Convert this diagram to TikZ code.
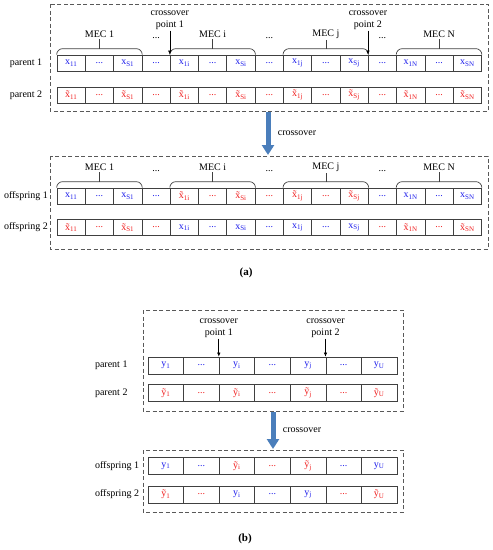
\documentclass[tikz,border=0pt]{standalone}
\usepackage{fontspec}
\setmainfont{Liberation Serif}
\usetikzlibrary{arrows.meta,calc,positioning}
\definecolor{gblue}{RGB}{30,30,235}
\definecolor{gred}{RGB}{240,30,30}
\definecolor{xoverblue}{RGB}{74,126,187}
\newcommand{\gx}[1]{x\textsubscript{#1}}
\newcommand{\gtx}[1]{\~{x}\textsubscript{#1}}
\newcommand{\gy}[1]{y\textsubscript{#1}}
\newcommand{\gty}[1]{\~{y}\textsubscript{#1}}
\newcommand{\gdots}{...}
\begin{document}
\begin{tikzpicture}[x=1pt, y=-1pt,
  font=\fontsize{10}{11.5}\selectfont,
  cell/.style={draw=black!75, line width=0.7pt, minimum width=28.3pt, minimum height=16pt, inner sep=0pt},
  cellb/.style={cell, minimum width=35.57pt, minimum height=17pt},
  grpbox/.style={draw=black!65, line width=0.8pt, dash pattern=on 4pt off 2.5pt},
  brace/.style={draw=black!75, line width=0.7pt, rounded corners=6pt},
  meclbl/.style={inner sep=1pt},
  xlbl/.style={align=center, inner sep=1pt},
  ptarrow/.style={-{Latex[length=4pt,width=3.5pt]}, line width=0.6pt},
  bigarrow/.style={-{Triangle[length=10pt,width=12pt]}, line width=5pt, xoverblue}
]
\useasboundingbox (0,0) rectangle (493,550);

% (a) parents
\draw[grpbox] (50,4) rectangle (488,111);
\foreach \cl/\tx [count=\k] in {gblue/\gx{11}, gblue/\gdots, gblue/\gx{S1}, gblue/\gdots, gblue/\gx{1i}, gblue/\gdots, gblue/\gx{Si}, gblue/\gdots, gblue/\gx{1j}, gblue/\gdots, gblue/\gx{Sj}, gblue/\gdots, gblue/\gx{1N}, gblue/\gdots, gblue/\gx{SN}}
  \node[cell, text=\cl] (a1-\k) at ({57+28.3*(\k-0.5)}, 63) {\tx};
\foreach \cl/\tx [count=\k] in {gred/\gtx{11}, gred/\gdots, gred/\gtx{S1}, gred/\gdots, gred/\gtx{1i}, gred/\gdots, gred/\gtx{Si}, gred/\gdots, gred/\gtx{1j}, gred/\gdots, gred/\gtx{Sj}, gred/\gdots, gred/\gtx{1N}, gred/\gdots, gred/\gtx{SN}}
  \node[cell, text=\cl] (a2-\k) at ({57+28.3*(\k-0.5)}, 95) {\tx};
\node (lp1a) at (26,63) {parent 1};
\node (lp2a) at (26,95) {parent 2};

% (a) offspring
\draw[grpbox] (50,156) rectangle (488,249);
\foreach \cl/\tx [count=\k] in {gblue/\gx{11}, gblue/\gdots, gblue/\gx{S1}, gblue/\gdots, gred/\gtx{1i}, gred/\gdots, gred/\gtx{Si}, gred/\gdots, gred/\gtx{1j}, gred/\gdots, gred/\gtx{Sj}, gblue/\gdots, gblue/\gx{1N}, gblue/\gdots, gblue/\gx{SN}}
  \node[cell, text=\cl] (a3-\k) at ({57+28.3*(\k-0.5)}, 196) {\tx};
\foreach \cl/\tx [count=\k] in {gred/\gtx{11}, gred/\gdots, gred/\gtx{S1}, gred/\gdots, gblue/\gx{1i}, gblue/\gdots, gblue/\gx{Si}, gblue/\gdots, gblue/\gx{1j}, gblue/\gdots, gblue/\gx{Sj}, gred/\gdots, gred/\gtx{1N}, gred/\gdots, gred/\gtx{SN}}
  \node[cell, text=\cl] (a4-\k) at ({57+28.3*(\k-0.5)}, 227.5) {\tx};
\node (lo1a) at (26,196) {offspring 1};
\node (lo2a) at (26,227.5) {offspring 2};

% MEC groups
\foreach \r/\t in {a1/u, a3/d} {
  \foreach \s/\e/\m in {1/3/1, 5/7/i, 9/11/j, 13/15/N} {
    \draw[brace] (\r-\s.north west) -- ++(0,-6) -| (\r-\e.north east);
    \node[meclbl] (mec\t\m) at ($(\r-\s.north west)!0.5!(\r-\e.north east)+(0,-20)$) {MEC \m};
    \draw[draw=black!75, line width=0.6pt] ($(\r-\s.north west)!0.5!(\r-\e.north east)+(0,-6)$) -- (mec\t\m.south);
  }
  \node[inner sep=0.5pt] (dd\t1) at ($(mec\t1)!0.5!(mec\t i)+(0,3)$) {\gdots};
  \node[inner sep=0.5pt] (dd\t2) at ($(mec\t i)!0.5!(mec\t j)+(0,3)$) {\gdots};
  \node[inner sep=0.5pt] (dd\t3) at ($(mec\t j)!0.5!(mec\t N)+(0,3)$) {\gdots};
}

% crossover points (a)
\node[xlbl, above=24pt of a1-5.north west] (cp1a) {crossover\\point 1};
\node[xlbl, above=24pt of a1-12.north west] (cp2a) {crossover\\point 2};
\draw[ptarrow] (cp1a) -- (a1-5.north west);
\draw[ptarrow] (cp2a) -- (a1-12.north west);

\coordinate (xa0) at (268,112);
\coordinate (xa1) at (268,155);
\draw[bigarrow] (xa0) -- (xa1) node[midway, right=4pt, text=black] (xlbla) {crossover};

\node[font=\fontsize{11}{13}\selectfont\bfseries] (capa) at (246,273) {(a)};

% (b) parents
\draw[grpbox] (143,310) rectangle (403,411);
\foreach \cl/\tx [count=\k] in {gblue/\gy{1}, gblue/\gdots, gblue/\gy{i}, gblue/\gdots, gblue/\gy{j}, gblue/\gdots, gblue/\gy{U}}
  \node[cellb, text=\cl] (b1-\k) at ({148+35.57*(\k-0.5)}, 365.5) {\tx};
\foreach \cl/\tx [count=\k] in {gred/\gty{1}, gred/\gdots, gred/\gty{i}, gred/\gdots, gred/\gty{j}, gred/\gdots, gred/\gty{U}}
  \node[cellb, text=\cl] (b2-\k) at ({148+35.57*(\k-0.5)}, 393) {\tx};
\node[anchor=west] (lp1b) at (91.5,365.5) {parent 1};
\node[anchor=west] (lp2b) at (91.5,393) {parent 2};

\node[xlbl, above=18pt of b1-3.north west] (cp1b) {crossover\\point 1};
\node[xlbl, above=18pt of b1-6.north west] (cp2b) {crossover\\point 2};
\draw[ptarrow] (cp1b) -- (b1-3.north west);
\draw[ptarrow] (cp2b) -- (b1-6.north west);

\coordinate (xb0) at (273,412);
\coordinate (xb1) at (273,449);
\draw[bigarrow] (xb0) -- (xb1) node[midway, right=4pt, text=black] (xlblb) {crossover};

% (b) offspring
\draw[grpbox] (143,450) rectangle (403,512);
\foreach \cl/\tx [count=\k] in {gblue/\gy{1}, gblue/\gdots, gred/\gty{i}, gred/\gdots, gred/\gty{j}, gblue/\gdots, gblue/\gy{U}}
  \node[cellb, text=\cl] (b3-\k) at ({148+35.57*(\k-0.5)}, 466) {\tx};
\foreach \cl/\tx [count=\k] in {gred/\gty{1}, gred/\gdots, gblue/\gy{i}, gblue/\gdots, gblue/\gy{j}, gred/\gdots, gred/\gty{U}}
  \node[cellb, text=\cl] (b4-\k) at ({148+35.57*(\k-0.5)}, 494.5) {\tx};
\node[anchor=west] (lo1b) at (91.5,466) {offspring 1};
\node[anchor=west] (lo2b) at (91.5,494.5) {offspring 2};

\node[font=\fontsize{11}{13}\selectfont\bfseries] (capb) at (245,539) {(b)};
\end{tikzpicture}
\end{document}
